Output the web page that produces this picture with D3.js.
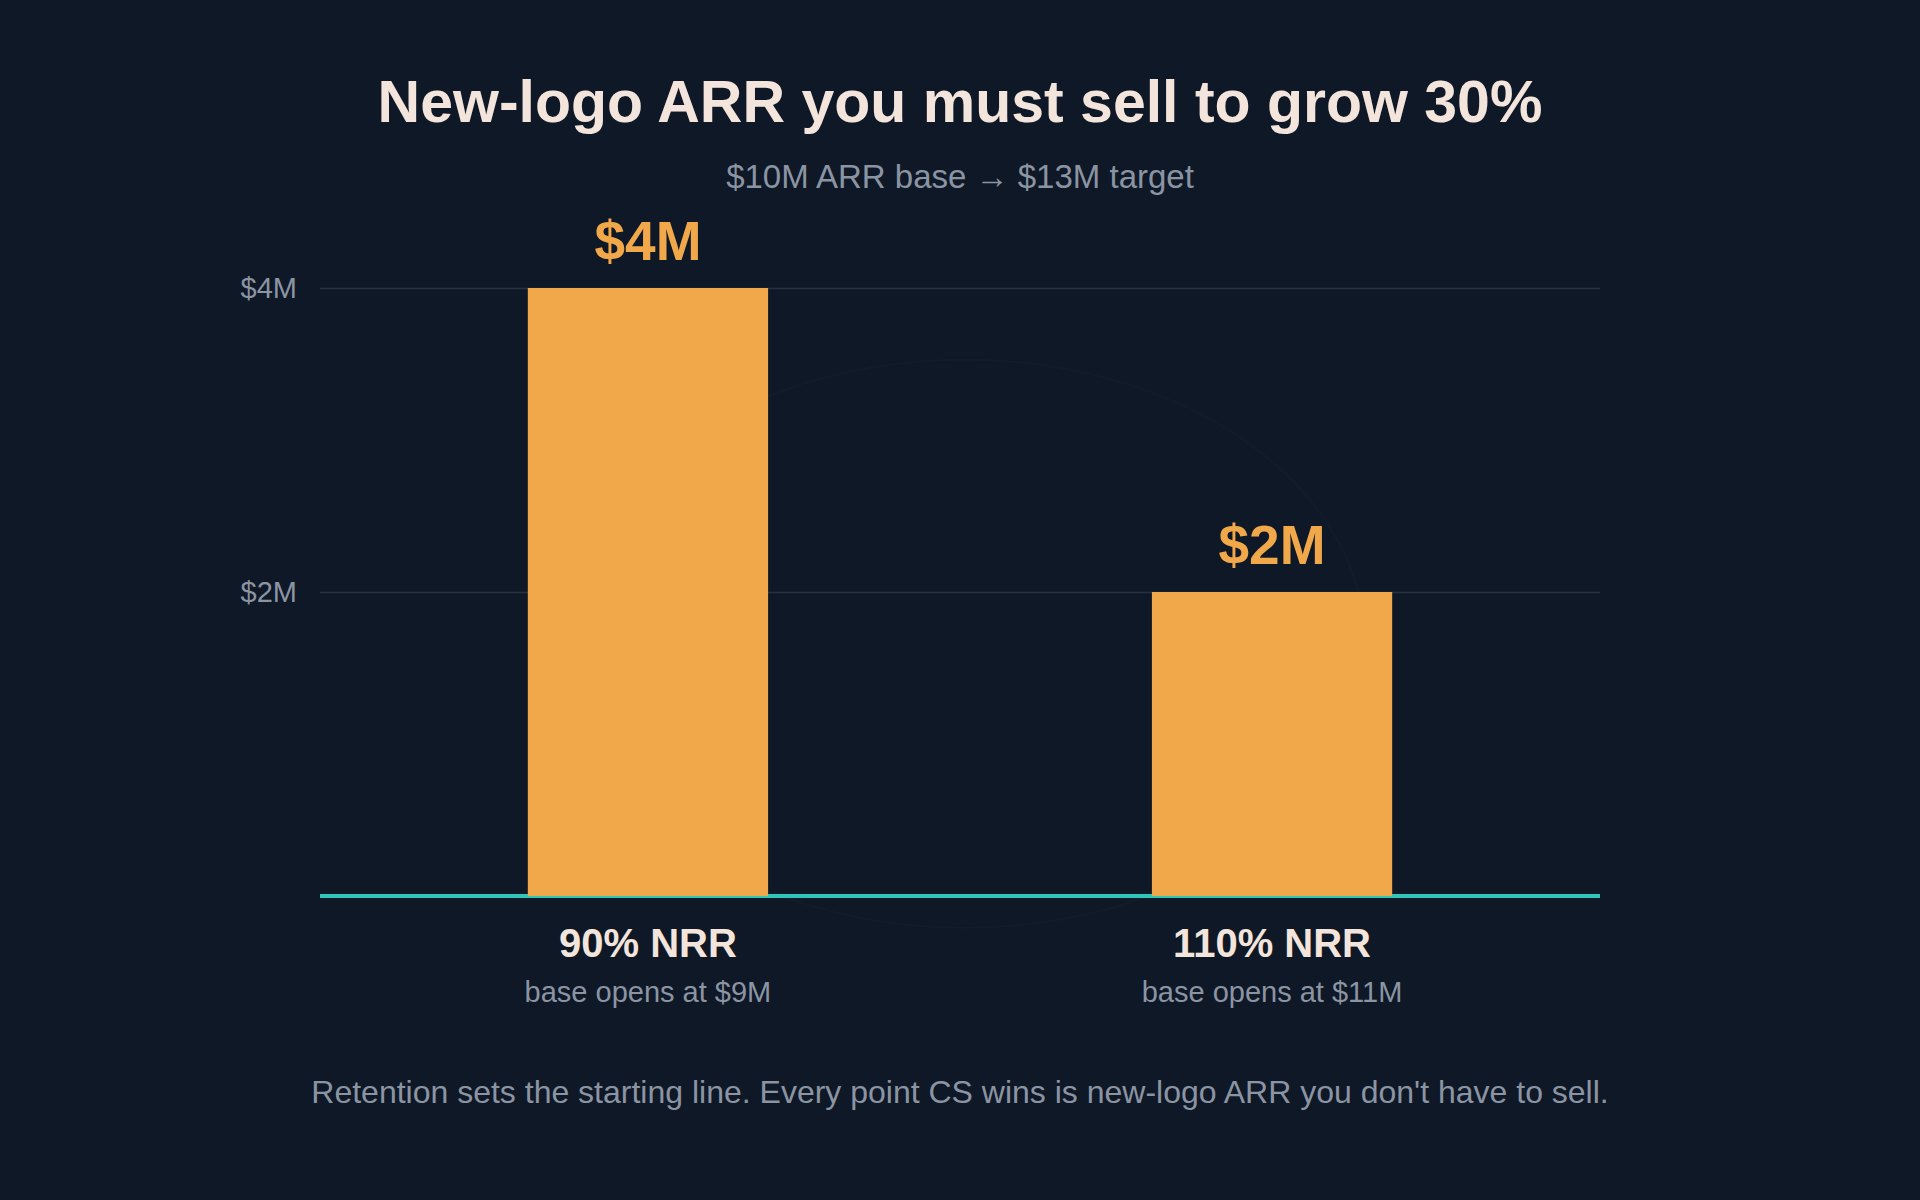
<!DOCTYPE html>
<html>
<head>
<meta charset="utf-8">
<script src="https://cdn.jsdelivr.net/npm/d3@7"></script>
<style>
  html, body { margin: 0; padding: 0; background: #0f1826; }
  svg { display: block; font-family: 'Liberation Sans', Arial, Helvetica, sans-serif; }
</style>
</head>
<body>
<svg id="chart" width="1920" height="1200"></svg>
<script>
const categories = ['90% NRR', '110% NRR']
const baseNotes = ['base opens at $9M', 'base opens at $11M']
const newLogoArr = [4, 2]
const yTicks = [2, 4]
const valueLabels = ['$4M', '$2M']

const title = 'New-logo ARR you must sell to grow 30%'
const subtitle = '$10M ARR base \u2192 $13M target'
const footnote = 'Retention sets the starting line. Every point CS wins is new-logo ARR you don\'t have to sell.'

const WIDTH = 1920
const MARGINS = { top: 288, right: 320, bottom: 304, left: 320 }
const plotBottom = 1200 - MARGINS.bottom

const svg = d3.select('#chart')

const x = d3.scaleBand()
  .domain(categories)
  .range([MARGINS.left, WIDTH - MARGINS.right])
  .paddingInner(0.615)
  .paddingOuter(0.333)

const y = d3.scaleLinear()
  .domain([0, 4])
  .range([plotBottom, MARGINS.top])

// title block
svg.append('text')
  .attr('x', WIDTH / 2)
  .attr('y', 122)
  .attr('text-anchor', 'middle')
  .attr('fill', '#f3e5dc')
  .attr('font-size', 59)
  .attr('font-weight', 700)
  .text(title)

svg.append('text')
  .attr('x', WIDTH / 2)
  .attr('y', 188)
  .attr('text-anchor', 'middle')
  .attr('fill', '#8b94a3')
  .attr('font-size', 33)
  .text(subtitle)

// faint backdrop ring
const plotMid = (MARGINS.left + WIDTH - MARGINS.right) / 2
svg.append('ellipse')
  .attr('cx', plotMid + 5)
  .attr('cy', y(1.66))
  .attr('rx', 400)
  .attr('ry', 284)
  .attr('fill', 'none')
  .attr('stroke', '#ffffff')
  .attr('stroke-opacity', 0.016)
  .attr('stroke-width', 2)

// gridlines + tick labels
const yAxis = d3.axisLeft(y)
  .tickValues(yTicks)
  .tickSize(-(WIDTH - MARGINS.left - MARGINS.right))
  .tickPadding(23)
  .tickFormat(d => `$${d}M`)

const gAxis = svg.append('g')
  .attr('transform', `translate(${MARGINS.left}, 0)`)
  .call(yAxis)

gAxis.select('.domain').remove()
gAxis.selectAll('.tick line')
  .attr('stroke', '#283142')
  .attr('stroke-width', 1.5)
gAxis.selectAll('.tick text')
  .attr('fill', '#8b94a3')
  .attr('font-size', 29)
  .attr('font-family', "'Liberation Sans', Arial, sans-serif")

// baseline
svg.append('line')
  .attr('x1', MARGINS.left)
  .attr('x2', WIDTH - MARGINS.right)
  .attr('y1', y(0))
  .attr('y2', y(0))
  .attr('stroke', '#2ec4b8')
  .attr('stroke-width', 4)

// bars
svg.selectAll('.bar')
  .data(newLogoArr)
  .enter()
  .append('rect')
  .attr('class', 'bar')
  .attr('x', (d, i) => x(categories[i]))
  .attr('y', d => y(d))
  .attr('width', x.bandwidth())
  .attr('height', d => y(0) - y(d))
  .attr('fill', '#f0a84a')

svg.selectAll('.value-label')
  .data(newLogoArr)
  .enter()
  .append('text')
  .attr('class', 'value-label')
  .attr('x', (d, i) => x(categories[i]) + x.bandwidth() / 2)
  .attr('y', d => y(d) - 28)
  .attr('text-anchor', 'middle')
  .attr('fill', '#f0a84a')
  .attr('font-size', 55)
  .attr('font-weight', 700)
  .text((d, i) => valueLabels[i])

// category labels
svg.selectAll('.cat-label')
  .data(categories)
  .enter()
  .append('text')
  .attr('class', 'cat-label')
  .attr('x', d => x(d) + x.bandwidth() / 2)
  .attr('y', plotBottom + 61)
  .attr('text-anchor', 'middle')
  .attr('fill', '#f3e5dc')
  .attr('font-size', 40)
  .attr('font-weight', 700)
  .text(d => d)

svg.selectAll('.cat-note')
  .data(baseNotes)
  .enter()
  .append('text')
  .attr('class', 'cat-note')
  .attr('x', (d, i) => x(categories[i]) + x.bandwidth() / 2)
  .attr('y', plotBottom + 106)
  .attr('text-anchor', 'middle')
  .attr('fill', '#8b94a3')
  .attr('font-size', 29)
  .text(d => d)

svg.append('text')
  .attr('x', WIDTH / 2)
  .attr('y', 1103)
  .attr('text-anchor', 'middle')
  .attr('fill', '#8b94a3')
  .attr('font-size', 32)
  .text(footnote)
</script>
</body>
</html>
